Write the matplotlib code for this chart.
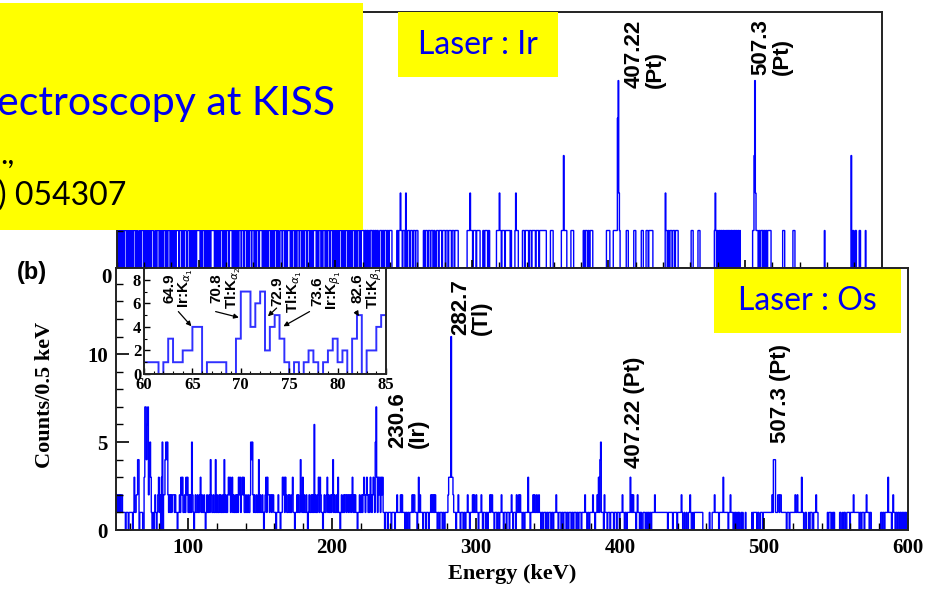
import numpy as np
import matplotlib
matplotlib.use("Agg")
import matplotlib.pyplot as plt
from matplotlib.patches import Rectangle
from matplotlib.ticker import MultipleLocator, FixedLocator, NullFormatter

# counts per 0.5 keV bin
# top panel (laser on Ir), bins start at 40 keV
ir_start = 40.0
ir_040_100 = [
    1,1,0,1,0,1,1,0,1,1, 0,1,1,1,0,1,0,1,1,0,
    1,0,1,1,0,1,1,1,0,1, 1,0,0,1,1,0,1,1,1,0,
    1,1,0,1,0,1,1,0,1,1, 0,1,1,1,0,0,1,1,0,1,
    1,1,0,1,1,0,1,0,1,1, 1,0,1,1,0,1,1,1,0,1,
    0,1,1,0,1,1,0,1,1,1, 1,0,1,1,1,0,1,1,0,1,
    1,1,0,0,1,1,1,0,1,1, 0,1,1,0,1,1,0,1,1,1,
]
ir_100_150 = [
    1,1,0,1,1,0,1,1,1,0, 1,0,1,1,0,1,1,0,1,1,
    1,1,1,0,1,1,0,1,0,1, 1,0,1,1,1,0,1,1,0,1,
    0,1,1,1,0,1,1,1,1,0, 1,1,0,1,1,0,1,1,0,1,
    1,1,0,1,1,1,0,1,1,1, 0,1,1,0,1,1,1,0,1,1,
    1,0,1,1,0,1,1,1,0,1, 1,1,1,0,1,1,0,1,1,0,
]
ir_150_200 = [
    1,0,1,1,1,0,1,0,1,1, 0,1,1,1,0,1,1,0,0,1,
    1,1,0,1,1,1,0,1,1,0, 1,1,1,1,0,1,0,1,1,1,
    0,1,1,0,1,1,1,0,1,1, 1,0,1,1,0,1,1,1,0,1,
    1,1,0,1,0,1,1,0,1,1, 1,1,0,1,1,0,1,1,1,0,
    1,0,1,1,1,0,1,1,0,1, 1,1,0,1,1,1,0,1,1,0,
]
ir_200_250 = [
    1,1,0,1,1,0,1,1,1,0, 1,1,0,1,0,1,1,1,0,1,
    1,0,1,1,0,1,1,1,0,1, 1,0,1,1,1,0,1,0,1,1,
    1,1,0,1,1,0,1,1,0,1, 0,1,1,1,0,1,1,0,1,1,
    0,1,1,0,0,1,1,1,0,1, 1,0,1,1,1,0,1,1,0,1,
    1,1,1,0,0,0,0,0,0,0, 1,1,0,1,1,2,1,1,0,1,
]
ir_250_300 = [
    1,1,0,2,1,0,1,1,1,0, 1,1,1,0,1,1,1,0,1,1,
    1,0,0,0,0,0,0,0,0,1, 1,0,1,1,1,0,1,1,1,0,
    1,1,1,0,1,1,0,0,1,1, 1,0,1,1,1,1,0,1,1,1,
    1,0,1,1,1,0,1,1,1,1, 0,1,1,1,0,1,1,1,1,1,
    0,0,0,0,0,0,0,0,0,0, 0,0,0,1,1,1,1,2,1,1,
]
ir_300_350 = [
    1,0,1,1,1,1,0,1,1,1, 1,1,0,0,0,0,1,1,0,1,
    1,1,1,0,1,1,0,0,0,0, 0,0,0,0,0,0,1,1,1,1,
    2,1,1,0,1,1,1,1,0,1, 1,1,1,1,1,1,0,1,0,0,
    0,0,0,1,2,1,1,1,0,0, 0,0,0,0,1,1,1,0,1,1,
    1,1,1,0,1,1,1,0,1,1, 1,1,1,0,1,1,1,1,0,1,
]
ir_350_400 = [
    1,1,1,1,1,1,1,1,1,0, 0,0,0,0,0,1,1,1,1,0,
    0,0,0,0,0,0,0,0,0,0, 0,1,1,1,3,1,1,1,1,0,
    0,0,0,0,0,1,1,1,1,0, 0,0,0,0,0,0,0,0,0,0,
    0,0,0,1,1,0,1,1,1,0, 1,1,0,1,1,1,1,0,0,0,
    0,0,0,0,0,0,0,0,0,0, 0,0,0,0,0,0,0,1,1,1,
]
ir_400_450 = [
    1,1,0,0,0,0,0,1,1,1, 1,1,1,4,5,2,1,0,0,0,
    0,0,0,0,0,0,1,1,1,0, 0,0,0,0,0,0,0,1,1,1,
    0,0,0,0,0,0,0,0,1,1, 1,0,0,0,0,1,1,1,0,1,
    1,1,1,1,1,0,0,0,0,0, 0,0,0,0,0,0,0,0,0,0,
    0,0,0,2,1,1,0,1,1,0, 1,1,1,0,1,1,1,0,1,1,
]
ir_450_500 = [
    1,1,0,0,0,0,0,0,0,0, 0,0,0,0,0,0,0,0,0,0,
    0,1,1,1,0,0,0,0,0,0, 0,1,1,1,0,0,0,0,0,0,
    0,0,0,0,0,0,0,0,0,0, 0,0,0,0,0,1,2,1,0,1,
    1,0,1,1,0,1,0,1,1,0, 1,0,1,0,1,1,0,1,0,1,
    1,0,1,0,1,1,0,1,0,1, 1,0,1,0,0,0,0,0,0,0,
]
ir_500_550 = [
    0,0,0,0,0,0,0,0,0,0, 0,1,1,3,5,2,1,1,1,0,
    1,1,0,1,1,1,0,1,1,0, 1,1,0,1,1,1,1,1,0,0,
    0,0,0,0,0,0,0,0,0,0, 0,0,0,0,0,1,1,1,0,0,
    0,0,0,0,0,0,0,0,0,0, 1,1,1,0,0,0,0,0,0,0,
    0,0,0,0,0,0,0,0,0,0, 0,0,0,0,0,0,0,0,0,0,
]
ir_550_600 = [
    0,0,0,0,0,0,0,0,0,0, 0,0,0,0,0,0,1,0,0,0,
    0,0,0,0,0,0,0,0,0,0, 0,0,0,0,0,0,0,0,0,0,
    0,0,0,0,0,0,0,0,0,0, 0,0,0,0,0,3,1,0,1,0,
    0,1,1,0,0,0,0,1,1,0, 0,0,0,0,0,0,1,0,0,0,
    0,0,0,0,0,0,0,0,0,0, 0,0,0,0,0,0,0,0,0,0,
]

# bottom panel (laser on Os), bins start at 50 keV
os_start = 50.0
os_050_100 = [
    2,2,1,2,1,2,1,2,2,1, 1,1,1,0,1,1,1,0,1,1,
    1,1,1,0,1,3,1,1,2,2, 4,4,0,1,1,1,1,0,0,3,
    7,7,4,6,7,2,4,5,3,1, 0,1,0,1,2,1,0,1,2,3,
    1,2,0,3,5,0,2,2,4,5, 4,5,2,1,2,1,2,1,2,2,
    2,1,2,1,1,0,1,1,2,1, 3,2,3,1,1,2,1,3,2,3,
]
os_100_150 = [
    1,2,1,2,1,5,2,1,0,1, 2,1,1,2,1,1,2,3,1,2,
    1,1,2,1,0,1,2,1,1,2, 1,4,2,1,1,2,1,1,4,1,
    2,1,1,2,1,2,1,1,2,1, 4,1,2,1,1,2,3,2,3,1,
    2,3,1,2,1,1,2,1,2,1, 3,2,3,1,2,3,2,3,1,1,
    2,1,1,2,1,1,2,5,4,5, 2,1,2,1,1,2,1,1,4,1,
]
os_150_200 = [
    2,1,1,2,1,0,1,2,3,1, 3,2,2,1,2,2,1,2,2,1,
    1,1,0,1,1,2,1,1,0,1, 1,3,2,3,1,3,2,1,1,2,
    1,2,1,1,2,3,1,1,0,1, 1,2,1,2,1,1,4,2,1,3,
    1,2,1,1,2,1,0,1,2,1, 1,2,1,2,1,6,1,2,1,1,
    2,3,1,3,2,1,1,0,1,2, 1,1,2,3,1,2,1,1,2,1,
]
os_200_250 = [
    2,4,1,2,1,1,2,1,3,1, 1,0,1,2,1,1,2,1,2,2,
    1,2,2,1,2,2,1,2,3,1, 2,1,2,1,1,0,1,1,2,1,
    1,2,1,2,3,2,1,2,3,2, 1,2,1,3,2,1,2,3,2,1,
    5,7,3,1,3,2,3,1,3,2, 3,1,1,0,1,1,1,0,1,1,
    1,1,0,1,1,1,1,0,1,1, 2,1,1,1,1,2,1,2,1,1,
]
os_250_300 = [
    1,0,1,1,0,1,1,0,1,1, 1,2,1,2,2,1,1,1,0,1,
    3,1,2,1,1,1,0,1,1,1, 0,1,1,1,0,1,1,2,1,2,
    1,2,1,2,1,1,0,1,1,0, 1,1,1,0,1,1,0,1,1,1,
    1,2,3,3,3,11,3,3,2,1, 1,1,0,1,1,2,1,1,0,1,
    1,1,0,1,1,0,1,1,2,1, 1,0,1,1,1,2,1,2,1,1,
]
os_300_350 = [
    2,1,1,0,1,1,1,2,1,0, 1,1,1,0,1,1,0,1,1,2,
    1,2,2,1,1,0,1,1,1,0, 1,1,0,1,1,2,1,1,0,1,
    1,1,0,1,1,1,0,1,1,2, 1,0,1,1,1,0,2,1,1,2,
    1,2,1,1,0,1,1,0,1,1, 1,1,3,1,1,0,1,1,1,2,
    1,2,1,1,2,1,1,2,1,1, 0,1,1,0,1,1,1,0,1,1,
]
os_350_400 = [
    0,1,1,1,0,1,1,0,1,1, 1,2,1,1,0,1,1,1,0,1,
    1,0,1,1,1,0,1,1,0,1, 1,1,0,1,1,0,1,1,1,0,
    1,1,0,1,1,1,0,1,1,1, 1,2,1,1,0,1,1,0,1,1,
    1,1,2,1,1,0,1,1,2,1, 3,1,4,5,1,1,1,0,2,1,
    1,1,0,1,1,1,0,1,1,1, 1,0,1,1,1,0,1,1,1,0,
]
os_400_450 = [
    1,1,1,2,1,1,0,1,1,0, 1,1,1,1,3,1,2,1,2,1,
    1,1,0,1,2,1,1,0,1,1, 0,0,1,1,1,0,1,0,1,1,
    0,1,1,0,1,1,1,1,2,1, 1,1,1,1,1,1,1,1,1,1,
    1,1,1,1,1,1,0,1,1,1, 1,1,1,0,1,1,1,1,1,0,
    1,1,1,1,1,2,1,0,0,1, 0,0,1,0,0,1,1,2,1,0,
]
os_450_500 = [
    0,1,0,1,1,1,1,1,1,1, 1,1,1,1,1,0,0,0,0,0,
    0,0,0,0,1,0,0,0,1,1, 1,2,1,1,1,1,1,0,1,1,
    1,1,1,3,1,1,1,1,1,1, 0,1,1,2,1,1,1,0,1,0,
    1,0,1,0,1,1,0,0,1,0, 1,0,0,0,1,0,0,0,0,0,
    0,0,0,1,0,1,1,1,1,1, 0,1,1,0,0,1,1,1,0,1,
]
os_500_550 = [
    1,1,1,1,1,1,1,1,1,1, 1,2,1,4,4,4,1,1,1,2,
    2,1,2,2,1,1,1,1,1,1, 1,0,1,1,1,0,1,1,1,1,
    1,1,1,2,1,1,2,1,1,1, 1,1,3,1,1,0,0,1,1,0,
    0,0,1,0,1,1,1,0,0,1, 1,1,2,1,1,0,0,0,0,0,
    0,0,0,0,0,0,0,0,1,0, 1,1,1,0,1,0,1,1,0,0,
]
os_550_600 = [
    0,0,0,0,0,1,1,0,0,1, 0,1,1,0,0,1,1,1,1,0,
    1,1,1,1,2,1,1,1,1,1, 1,1,0,1,1,0,1,1,1,0,
    1,1,2,1,1,1,0,1,1,0, 0,0,0,0,0,0,0,0,0,0,
    0,0,1,1,0,1,1,0,1,1, 1,1,3,1,1,1,1,0,1,2,
    1,1,0,1,1,0,1,1,0,1, 1,0,1,1,0,1,1,0,1,1,
]

# peak labels
top_peaks = ["407.22\n(Pt)", "507.3\n(Pt)"]
top_peak_pos = [(426.5, 4.8), (519.5, 5.15)]
bot_peaks = ["282.7\n(Tl)", "230.6\n(Ir)", "407.22 (Pt)", "507.3 (Pt)"]
bot_peak_pos = [(296.5, 11.1), (252.8, 4.65), (410.0, 3.5), (511.5, 4.95)]
xray_labels = ["64.9\nIr:K$_{\\alpha_1}$", "70.8\nTl:K$_{\\alpha_2}$",
               "72.9\nTl:K$_{\\alpha_1}$", "73.6\nIr:K$_{\\beta_1}$",
               "82.6\nTl:K$_{\\beta_1}$"]
xray_label_pos = [(63.6, 5.6), (68.5, 5.5), (74.8, 5.2), (78.9, 5.4), (83.1, 5.5)]
xray_arrows = [((63.55, 5.3), (64.9, 4.05)), ((67.4, 5.3), (69.8, 4.8)),
               ((73.7, 5.6), (72.8, 4.9)), ((77.1, 5.3), (74.4, 4.05)),
               ((81.9, 5.3), (82.2, 4.9))]

ir_counts = np.array(ir_040_100 + ir_100_150 + ir_150_200 + ir_200_250 + ir_250_300
                     + ir_300_350 + ir_350_400 + ir_400_450 + ir_450_500
                     + ir_500_550 + ir_550_600)
os_counts = np.array(os_050_100 + os_100_150 + os_150_200 + os_200_250 + os_250_300
                     + os_300_350 + os_350_400 + os_400_450 + os_450_500
                     + os_500_550 + os_550_600)
ir_edges = ir_start + 0.5 * np.arange(len(ir_counts) + 1)
os_edges = os_start + 0.5 * np.arange(len(os_counts) + 1)

serif = "Liberation Serif"
sans = "Liberation Sans"
slide = "Lato"
blue = "#0000ff"

W, H = 932, 591
fig = plt.figure(figsize=(W / 100, H / 100), dpi=100)


def frac(x0, y0, x1, y1):
    # pixel box (top-left origin) -> figure fraction rect
    return [x0 / W, 1 - y1 / H, (x1 - x0) / W, (y1 - y0) / H]


ax_top = fig.add_axes(frac(116.7, 12, 881.7, 268))
ax_bot = fig.add_axes(frac(116, 268, 908, 530))
ax_in = fig.add_axes(frac(144, 268, 386, 374))

for ax in (ax_top, ax_bot, ax_in):
    for s in ax.spines.values():
        s.set_linewidth(1.4)
        s.set_color("#222222")

# top panel
ax_top.stairs(ir_counts, ir_edges, color=blue, lw=1.0)
ax_top.set_xlim(40, 600)
ax_top.set_ylim(0, 6.83)
ax_top.xaxis.set_major_locator(MultipleLocator(100))
ax_top.xaxis.set_minor_locator(MultipleLocator(20))
ax_top.xaxis.set_major_formatter(NullFormatter())
ax_top.yaxis.set_major_locator(FixedLocator([0]))
ax_top.yaxis.set_minor_locator(MultipleLocator(1))
ax_top.tick_params(which="both", direction="in", top=False, right=False)
ax_top.tick_params(which="major", length=6, width=1.2)
ax_top.tick_params(which="minor", length=4, width=1.0)
ax_top.set_yticklabels(["0"], fontfamily=serif, fontweight="bold", fontsize=15, va="top")
for lab, (xe, yc) in zip(top_peaks, top_peak_pos):
    ax_top.text(xe, yc, lab, rotation=90, ha="center", va="bottom", multialignment="left",
                fontfamily=sans, fontweight="bold", fontsize=16, linespacing=1.0)

# bottom panel
ax_bot.stairs(os_counts, os_edges, color=blue, lw=1.0)
ax_bot.set_xlim(50, 600)
ax_bot.set_ylim(0, 14.9)
ax_bot.xaxis.set_major_locator(MultipleLocator(100))
ax_bot.xaxis.set_minor_locator(MultipleLocator(20))
ax_bot.yaxis.set_major_locator(FixedLocator([0, 5, 10]))
ax_bot.yaxis.set_minor_locator(MultipleLocator(1))
ax_bot.tick_params(which="both", direction="in", top=False, right=False)
ax_bot.tick_params(which="major", length=9, width=1.2, pad=6)
ax_bot.tick_params(which="minor", length=5, width=1.0)
for lab in ax_bot.get_yticklabels():
    lab.set_fontfamily(serif)
    lab.set_fontweight("bold")
    lab.set_fontsize(15)
ax_bot.set_xticks([100, 200, 300, 400, 500, 600])
ax_bot.set_xticklabels(["100", "200", "300", "400", "500", "600"],
                       fontfamily=serif, fontweight="bold", fontsize=15)
ax_bot.set_xlabel("Energy (keV)", fontfamily=serif, fontweight="bold", fontsize=16, labelpad=4)
for lab, (xe, yc) in zip(bot_peaks, bot_peak_pos):
    ax_bot.text(xe, yc, lab, rotation=90, ha="center", va="bottom", multialignment="left",
                fontfamily=sans, fontweight="bold", fontsize=16, linespacing=1.0)

# inset: zoom on the x-ray region
ax_in.stairs(os_counts, os_edges, color="#3030ff", lw=1.4)
ax_in.set_xlim(60, 85)
ax_in.set_ylim(0, 9.0)
ax_in.xaxis.set_major_locator(MultipleLocator(5))
ax_in.xaxis.set_minor_locator(MultipleLocator(1))
ax_in.yaxis.set_major_locator(MultipleLocator(2))
ax_in.yaxis.set_minor_locator(MultipleLocator(1))
ax_in.tick_params(which="both", direction="in")
ax_in.tick_params(which="major", length=4, width=1.0, pad=2)
ax_in.tick_params(which="minor", length=2, width=0.8)
for lab in ax_in.get_xticklabels() + ax_in.get_yticklabels():
    lab.set_fontfamily(serif)
    lab.set_fontweight("bold")
    lab.set_fontsize(12)
for lab, (xe, yc) in zip(xray_labels, xray_label_pos):
    ax_in.text(xe, yc, lab, rotation=90, ha="center", va="bottom", multialignment="center",
               fontfamily=sans, fontweight="bold", fontsize=11, linespacing=1.0)
for (x0, y0), (x1, y1) in xray_arrows:
    ax_in.annotate("", xy=(x1, y1), xytext=(x0, y0),
                   arrowprops=dict(arrowstyle="-|>", color="black", lw=0.9,
                                   mutation_scale=7, shrinkA=0, shrinkB=0))

# figure texts
fig.text(45 / W, 1 - 395 / H, "Counts/0.5 keV", rotation=90, ha="center", va="center",
         fontfamily=serif, fontweight="bold", fontsize=16)
fig.text(32 / W, 1 - 273 / H, "(b)", ha="center", va="center",
         fontfamily=sans, fontweight="bold", fontsize=17)

# yellow slide boxes on top
fig.add_artist(Rectangle((0, 1 - 230 / H), 363 / W, 227 / H, transform=fig.transFigure,
                         facecolor="#ffff00", edgecolor="none", zorder=5))
fig.text(-3 / W, 1 - 103 / H, "ectroscopy at KISS", ha="left", va="center",
         fontfamily=slide, fontsize=29.5, color="#0000ee", zorder=6)
fig.text(0 / W, 1 - 155 / H, ".,", ha="left", va="center",
         fontfamily=slide, fontsize=22, color="black", zorder=6)
fig.text(-2 / W, 1 - 196 / H, ") 054307", ha="left", va="center",
         fontfamily=slide, fontsize=23, color="black", zorder=6)

fig.add_artist(Rectangle((398 / W, 1 - 77 / H), 160 / W, 65 / H, transform=fig.transFigure,
                         facecolor="#ffff00", edgecolor="none", zorder=5))
fig.text(478 / W, 1 - 45 / H, "Laser : Ir", ha="center", va="center",
         fontfamily=slide, fontsize=23, color="#0000ee", zorder=6)

fig.add_artist(Rectangle((714 / W, 1 - 333 / H), 187 / W, 64 / H, transform=fig.transFigure,
                         facecolor="#ffff00", edgecolor="none", zorder=5))
fig.text(807 / W, 1 - 301 / H, "Laser : Os", ha="center", va="center",
         fontfamily=slide, fontsize=23, color="#0000ee", zorder=6)

fig.savefig("out.png", dpi=100)
